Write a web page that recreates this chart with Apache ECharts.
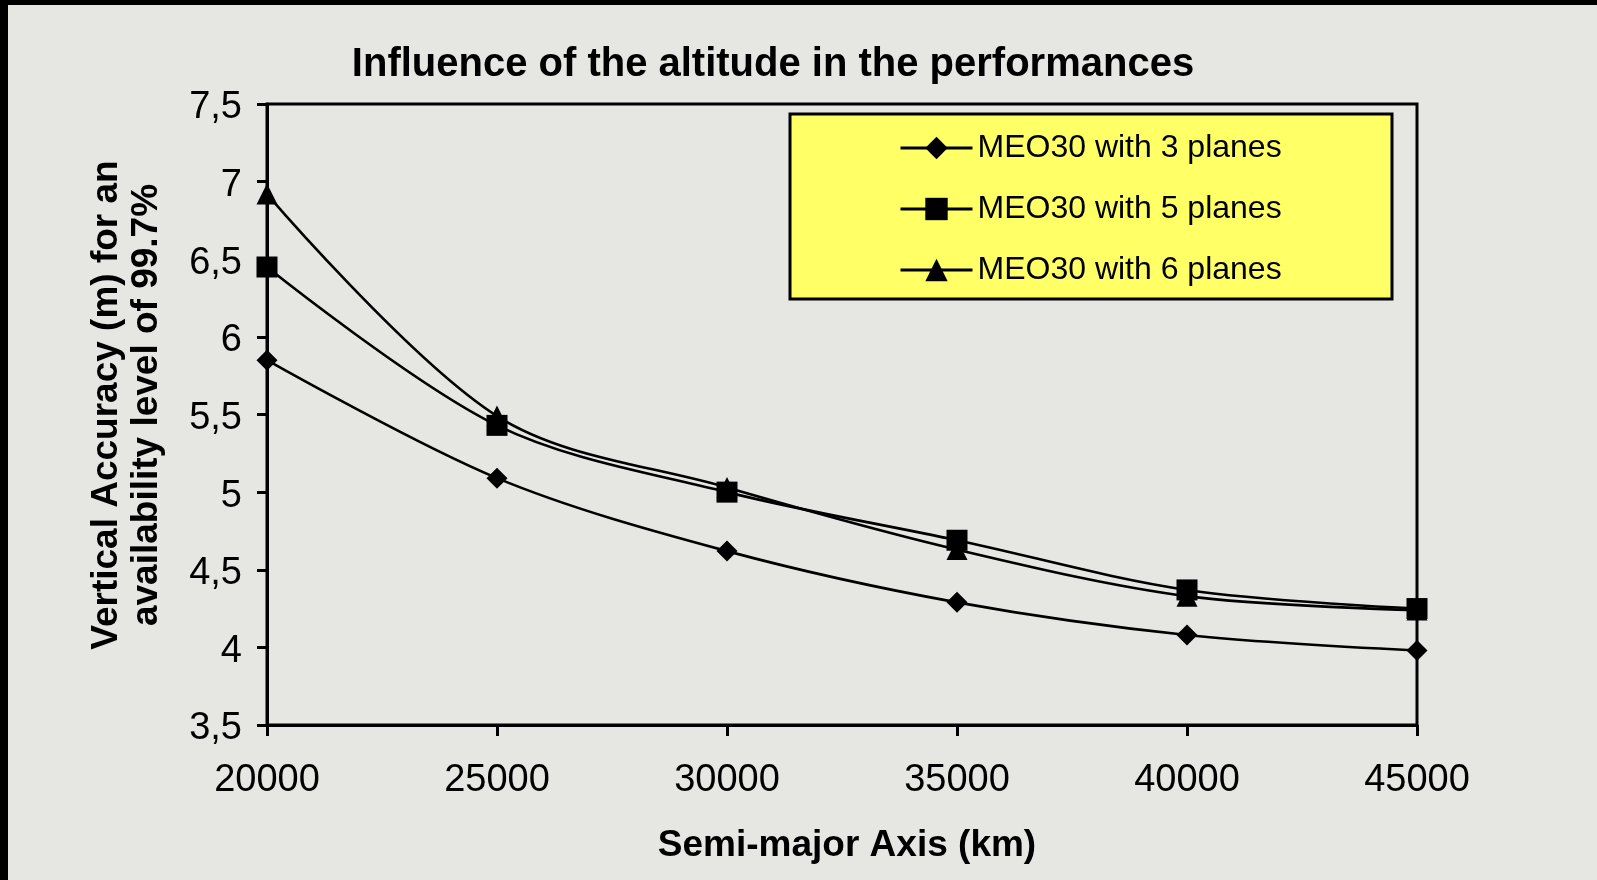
<!DOCTYPE html>
<html>
<head>
<meta charset="utf-8">
<title>Influence of the altitude in the performances</title>
<script src="https://cdn.jsdelivr.net/npm/echarts@6/dist/echarts.min.js"></script>
<style>
  html, body { margin: 0; padding: 0; background: #e6e6e2; }
  #chart { width: 1597px; height: 880px; }
</style>
</head>
<body>
<div id="chart"></div>
<script>
// Semi-major axis of the constellation (km)
const semiMajorAxis = [20000, 25000, 30000, 35000, 40000, 45000];

// Vertical accuracy (m) at 99.7% availability, one array per constellation
const meo3Planes = [5.85, 5.09, 4.62, 4.29, 4.08, 3.98];
const meo5Planes = [6.45, 5.43, 5.00, 4.69, 4.37, 4.25];
const meo6Planes = [6.92, 5.49, 5.03, 4.63, 4.33, 4.24];

const seriesNames = ['MEO30 with 3 planes', 'MEO30 with 5 planes', 'MEO30 with 6 planes'];
const seriesSymbols = ['diamond', 'rect', 'triangle'];

// Axis ticks
const xTicks = { min: 20000, max: 45000, step: 5000 };
const yTicks = { min: 3.5, max: 7.5, step: 0.5 };

const FONT = '"Liberation Sans", Arial, Helvetica, sans-serif';

function pairs(values) {
  return semiMajorAxis.map((x, i) => [x, values[i]]);
}

function lineSeries(name, values, symbol, size) {
  return {
    name: name,
    type: 'line',
    data: pairs(values),
    smooth: 0.33,
    symbol: symbol,
    symbolSize: size,
    showSymbol: true,
    lineStyle: { color: '#000', width: 2.6 },
    itemStyle: { color: '#000', borderWidth: 0 },
    emphasis: { disabled: true },
    z: 3
  };
}

const chart = echarts.init(document.getElementById('chart'), null, { renderer: 'canvas' });

chart.setOption({
  animation: false,
  backgroundColor: '#e6e6e2',
  grid: {
    left: 267, right: 180, top: 104, bottom: 155,
    show: true, borderColor: '#000', borderWidth: 3,
    backgroundColor: 'transparent'
  },
  xAxis: {
    type: 'value',
    min: xTicks.min, max: xTicks.max, interval: xTicks.step,
    axisLine: { lineStyle: { color: '#000', width: 3 } },
    axisTick: { show: true, length: 11, inside: false, lineStyle: { color: '#000', width: 3 } },
    splitLine: { show: false },
    axisLabel: {
      color: '#000', fontFamily: FONT, fontSize: 38, margin: 37,
      formatter: v => String(v)
    }
  },
  yAxis: {
    type: 'value',
    min: yTicks.min, max: yTicks.max, interval: yTicks.step,
    axisLine: { show: true, lineStyle: { color: '#000', width: 3 } },
    axisTick: { show: true, length: 10, inside: false, lineStyle: { color: '#000', width: 3 } },
    splitLine: { show: false },
    axisLabel: {
      color: '#000', fontFamily: FONT, fontSize: 38, margin: 25,
      // a short line box hung from the tick drops the digits slightly below it
      verticalAlign: 'top',
      lineHeight: 8,
      formatter: v => String(v).replace('.', ',')
    }
  },
  legend: {
    orient: 'vertical',
    left: 899, top: 132,
    padding: 0,
    itemWidth: 72, itemHeight: 28, itemGap: 29,
    data: seriesNames,
    selectedMode: false,
    lineStyle: { color: '#000', width: 3 },
    itemStyle: { color: '#000' },
    textStyle: { color: '#000', fontFamily: FONT, fontSize: 32, lineHeight: 32 },
    z: 10
  },
  graphic: [
    // frame edges along the top and left of the canvas
    { type: 'rect', shape: { x: 0, y: 0, width: 1597, height: 5 }, style: { fill: '#000' }, z: 100 },
    { type: 'rect', shape: { x: 0, y: 0, width: 8, height: 880 }, style: { fill: '#000' }, z: 100 },
    // legend panel
    {
      type: 'rect', z: 1,
      shape: { x: 790, y: 114, width: 602, height: 185 },
      style: { fill: '#ffff66', stroke: '#000', lineWidth: 3 }
    },
    // chart title
    {
      type: 'text', x: 773, y: 65, z: 10,
      style: {
        text: 'Influence of the altitude in the performances',
        fill: '#000', font: 'bold 40px ' + FONT,
        align: 'center', verticalAlign: 'middle'
      }
    },
    // y axis title, two lines
    {
      type: 'text', x: 127, y: 405, rotation: Math.PI / 2, z: 10,
      style: {
        text: 'Vertical Accuracy (m) for an\navailability level of 99.7%',
        fill: '#000', font: 'bold 37px ' + FONT, lineHeight: 40,
        align: 'center', verticalAlign: 'middle'
      }
    },
    // x axis title
    {
      type: 'text', x: 847, y: 846, z: 10,
      style: {
        text: 'Semi-major Axis (km)',
        fill: '#000', font: 'bold 37px ' + FONT,
        align: 'center', verticalAlign: 'middle'
      }
    }
  ],
  series: [
    lineSeries(seriesNames[0], meo3Planes, seriesSymbols[0], 21),
    lineSeries(seriesNames[1], meo5Planes, seriesSymbols[1], 21),
    lineSeries(seriesNames[2], meo6Planes, seriesSymbols[2], 21)
  ]
});
</script>
</body>
</html>
